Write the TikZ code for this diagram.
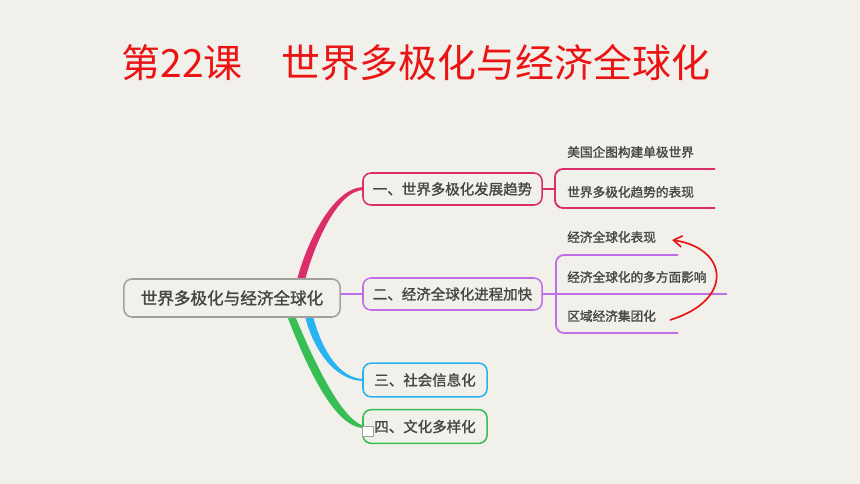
\documentclass[tikz,border=0pt]{standalone}
\usepackage{fontspec}
\newfontfamily\cjk{Noto Sans CJK SC}
\newfontfamily\cjkbold[FakeBold=1.5]{Noto Sans CJK SC}
\usetikzlibrary{arrows.meta}
\definecolor{paper}{RGB}{242,240,235}
\definecolor{titlered}{RGB}{235,20,20}
\definecolor{textgray}{RGB}{70,70,70}
\definecolor{rootline}{RGB}{160,160,160}
\definecolor{pinkline}{RGB}{218,45,105}
\definecolor{purpleline}{RGB}{190,110,230}
\definecolor{blueline}{RGB}{40,180,240}
\definecolor{greenline}{RGB}{55,190,85}
\begin{document}
\begin{tikzpicture}[x=0.025cm, y=-0.025cm, line join=round,
  topic/.style={draw, rounded corners=0.2cm, line width=1.1pt, fill=paper, text=textgray, font=\cjkbold\fontsize{10.3pt}{12pt}\selectfont, inner sep=0pt},
  root node/.style={topic, draw=rootline, minimum width=5.4cm, minimum height=0.95cm, font=\cjkbold\fontsize{11.8pt}{14pt}\selectfont},
  main node/.style={topic, minimum width=4.475cm, minimum height=0.8cm},
  small node/.style={topic, minimum width=3.1cm, minimum height=0.84cm},
  leaf/.style={anchor=west, inner sep=0pt, text=textgray, font=\cjkbold\fontsize{9pt}{11pt}\selectfont},
  bracket/.style={line width=1.3pt, rounded corners=0.2cm}]
\fill[paper] (0,0) rectangle (860,484);
% title
\node[text=titlered, font=\cjk\fontsize{27.7pt}{32pt}\selectfont] (title) at (416,63) {第22课　世界多极化与经济全球化};
% branches (drawn first, under the boxes)
\fill[pinkline] (297,280) .. controls (306,244) and (333,187) .. (364,187)
  -- (364,190) .. controls (337,190) and (314,246) .. (305,280) -- cycle;
\fill[blueline] (305,316) .. controls (312,346) and (333,381) .. (364,381)
  -- (364,379) .. controls (337,379) and (320,344) .. (313,316) -- cycle;
\fill[greenline] (287,316) .. controls (301,351) and (331,428) .. (364,428)
  -- (364,426) .. controls (339,419) and (309,349) .. (295,316) -- cycle;
% nodes
\node[root node] (root) at (232,298) {世界多极化与经济全球化};
\node[main node, draw=pinkline] (n1) at (452.5,189) {一、世界多极化发展趋势};
\node[main node, draw=purpleline] (n2) at (452.5,294) {二、经济全球化进程加快};
\node[small node, draw=blueline] (n3) at (425,380) {三、社会信息化};
\node[small node, draw=greenline] (n4) at (425,426.5) {四、文化多样化};
\fill[white, draw=rootline, line width=0.3pt] (362,426) rectangle (373,436);
\draw[purpleline, line width=1.1pt] (root.east |- n2.west) -- (n2.west);
% leaves
\node[leaf] (a1) at (567,152) {美国企图构建单极世界};
\node[leaf] (a2) at (567,192) {世界多极化趋势的表现};
\node[leaf] (b1) at (567,237) {经济全球化表现};
\node[leaf] (b2) at (567,277) {经济全球化的多方面影响};
\node[leaf] (b3) at (567,316) {区域经济集团化};
\coordinate (a1end) at (715,169);
\coordinate (a2end) at (715,208);
\coordinate (b1end) at (678,255);
\coordinate (b2end) at (727,294);
\coordinate (b3end) at (678,333);
\coordinate (arrstart) at (670,320);
\coordinate (arrend) at (672,240);
% brackets
\draw[bracket, pinkline] (a1end) -- (555,169) -- (555,208) -- (a2end);
\draw[pinkline, line width=1.3pt] (n1.east) -- (555,189);
\draw[bracket, purpleline] (b1end) -- (556,255) -- (556,333) -- (b3end);
\draw[purpleline, line width=1.3pt] (n2.east) -- (b2end);
% arrow
\draw[titlered, line width=1.2pt, -{Straight Barb[length=6pt, width=8pt]}] (arrstart)
  .. controls (735,300) and (728,248) .. (arrend);
\end{tikzpicture}
\end{document}
